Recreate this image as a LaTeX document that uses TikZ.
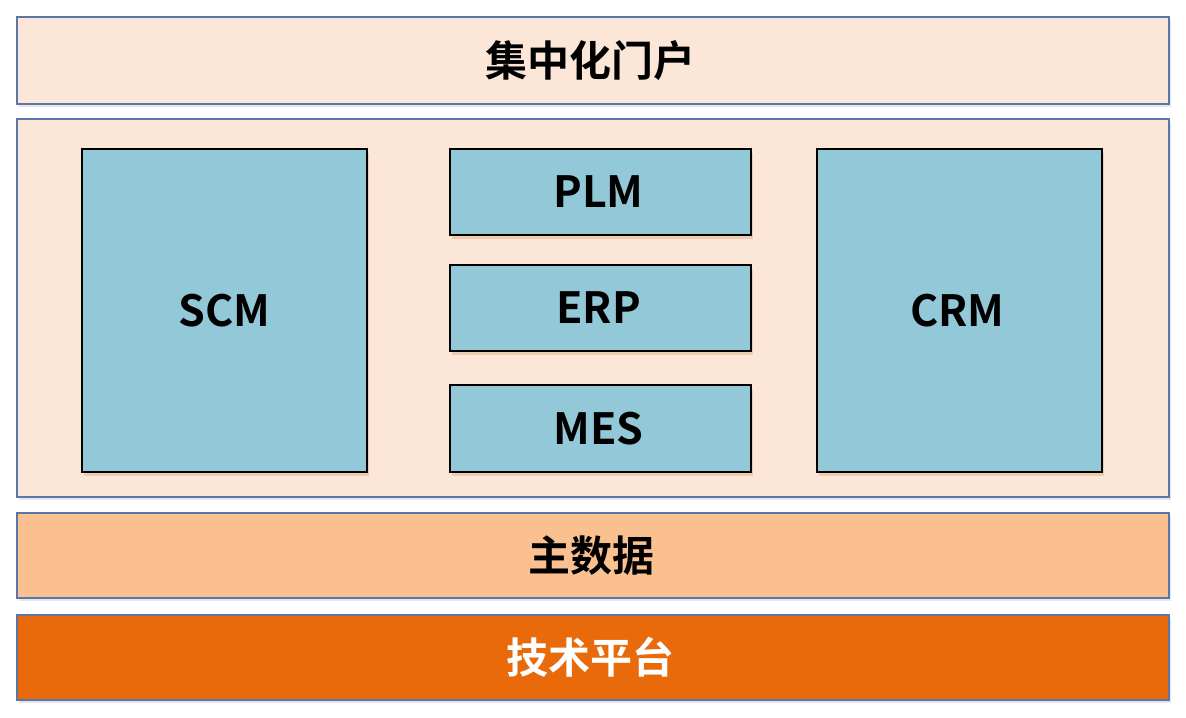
\documentclass[tikz,border=0pt]{standalone}
\usepackage{fontspec}
\setmainfont{Noto Sans CJK SC}[BoldFont={Noto Sans CJK SC Bold}]
\usetikzlibrary{shadows}
\definecolor{peach}{HTML}{FCE6D8}
\definecolor{skyb}{HTML}{93C8D8}
\definecolor{mdata}{HTML}{FAC090}
\definecolor{tech}{HTML}{E86A0A}
\definecolor{edge}{HTML}{5B77A8}
\begin{document}
\begin{tikzpicture}[x=1bp,y=-1bp,
  layer/.style={draw=edge,line width=1.2bp,fill=peach,
    drop shadow={shadow xshift=1.5bp,shadow yshift=-3bp,opacity=0.3,fill=edge!60}},
  app/.style={draw=black,line width=1.5bp,fill=skyb,
    drop shadow={shadow xshift=2bp,shadow yshift=-4bp,opacity=0.25,fill=brown}},
  lbl/.style={font=\fontsize{43bp}{48bp}\selectfont\bfseries,text=black},
  clbl/.style={font=\fontsize{42bp}{48bp}\selectfont\bfseries,text=black}]
\useasboundingbox[fill=white] (0,0) rectangle (1186,718);
\draw[layer] (17,17) rectangle (1169,104);
\node[clbl] (portal) at (590,61) {集中化门户};
\draw[layer] (17,119) rectangle (1169,497);
\draw[app] (82,149) rectangle (367,472);
\node[lbl] (scm) at (224.5,310.5) {SCM};
\draw[app] (450,149) rectangle (751,235);
\node[lbl] (plm) at (598.5,192) {PLM};
\draw[app] (450,265) rectangle (751,351);
\node[lbl] (erp) at (598.5,308) {ERP};
\draw[app] (450,385) rectangle (751,472);
\node[lbl] (mes) at (598.5,428.5) {MES};
\draw[app] (817,149) rectangle (1102,472);
\node[lbl] (crm) at (957.5,310.5) {CRM};
\draw[layer,fill=mdata] (17,513) rectangle (1169,598);
\node[clbl] (md) at (591,555.5) {主数据};
\draw[layer,fill=tech] (17,615) rectangle (1169,700);
\node[clbl,text=white] (tp) at (590,657.5) {技术平台};
\end{tikzpicture}
\end{document}
